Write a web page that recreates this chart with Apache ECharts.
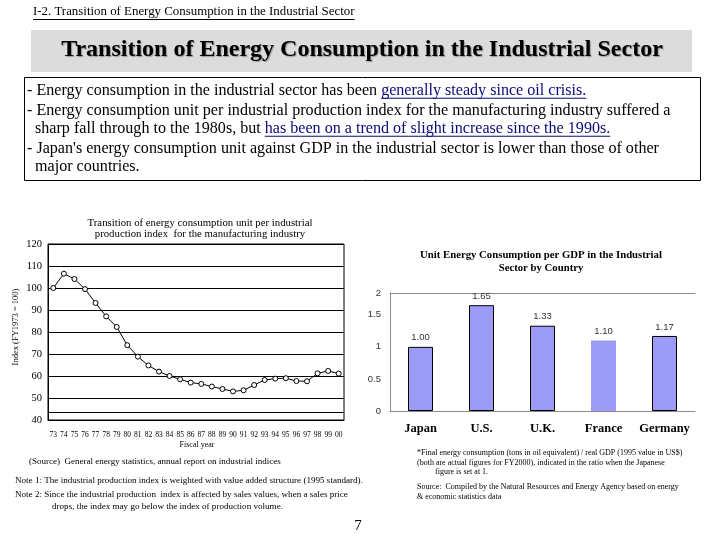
<!DOCTYPE html>
<html>
<head>
<meta charset="utf-8">
<script src="https://cdn.jsdelivr.net/npm/echarts@6/dist/echarts.min.js"></script>
<style>html,body{margin:0;padding:0;background:#fff;}#c{width:720px;height:540px;}</style>
</head>
<body>
<div id="c"></div>
<script>
// ---- data ----
const years = ['73','74','75','76','77','78','79','80','81','82','83','84','85','86','87','88','89','90','91','92','93','94','95','96','97','98','99','00'];
const energyIndex = [100,106.5,104.1,99.5,93.2,87.1,82.3,74.0,68.8,64.8,62.0,60.0,58.5,57.0,56.4,55.2,54.1,53.0,53.5,55.9,58.2,58.8,59.0,57.7,57.6,61.2,62.3,61.1];
const countries = ['Japan','U.S.','U.K.','France','Germany'];
const gdpRatio = [1.00,1.65,1.33,1.10,1.17];
const extraGuide = 43.6;

const SERIF = "'Liberation Serif', 'Times New Roman', serif";
const SANS = "'Liberation Sans', Arial, sans-serif";
const cv = document.createElement('canvas').getContext('2d');
function width(text, size, weight) { cv.font = (weight||'normal') + ' ' + size + 'px ' + SERIF; return cv.measureText(text).width; }
function fit(text, target, weight) { return 100 * target / width(text, 100, weight); }

const G = [];
function txt(x, y, text, size, opt) {
  opt = opt || {};
  const fw = opt.weight || 'normal';
  const el = { type:'text', x:x, y:y, rotation: opt.rotation || 0, z: 10,
    style:{ text:text, font: fw + ' ' + size + 'px ' + SERIF, fill: opt.fill || '#000',
      align: opt.align || 'left', verticalAlign:'middle', textAlign: opt.align || 'left', textVerticalAlign:'middle' } };
  if (opt.shadow) { el.style.textShadowColor = '#9a9a9a'; el.style.textShadowOffsetX = 1; el.style.textShadowOffsetY = 1; el.style.textShadowBlur = 1; }
  G.push(el);
}
function line(x1,y1,x2,y2,color,w){ G.push({type:'line', z:10, shape:{x1,y1,x2,y2}, style:{stroke:color||'#000', lineWidth:w||1}}); }

// header
const hdr = 'I-2. Transition of Energy Consumption in the Industrial Sector';
const hs = fit(hdr, 322);
txt(33, 12, hdr, hs);
line(33, 19.5, 33 + width(hdr, hs), 19.5, '#000', 1);

// band
G.push({type:'rect', z:1, shape:{x:31, y:30, width:661, height:42}, style:{fill:'#dcdcdc'}});
const ttl = 'Transition of Energy Consumption in the Industrial Sector';
txt(362, 50, ttl, fit(ttl, 602, 'bold'), {weight:'bold', align:'center', shadow:true});

// text box
G.push({type:'rect', z:1, shape:{x:24.5, y:77.5, width:676, height:103}, style:{fill:'#fff', stroke:'#000', lineWidth:1}});
const l2 = '- Energy consumption unit per industrial production index for the manufacturing industry suffered a';
const bs = fit(l2, 644);
const NAVY = '#0a0a78';
function bulletLine(x, y, prefix, ul) {
  txt(x, y, prefix, bs);
  if (ul) {
    const px = x + width(prefix, bs);
    txt(px, y, ul, bs, {fill:NAVY});
    line(px, y + bs*0.45, px + width(ul, bs), y + bs*0.45, NAVY, 1);
  }
}
bulletLine(27, 91, '- Energy consumption in the industrial sector has been ', 'generally steady since oil crisis.');
bulletLine(27, 111, l2);
bulletLine(27, 129, '  sharp fall through to the 1980s, but ', 'has been on a trend of slight increase since the 1990s.');
bulletLine(27, 149, "- Japan's energy consumption unit against GDP in the industrial sector is lower than those of other");
bulletLine(27, 167, '  major countries.');

// line chart titles & labels
const lt1 = 'Transition of energy consumption unit per industrial';
const lts = fit(lt1, 225);
txt(200, 223, lt1, lts, {align:'center'});
txt(200, 234, 'production index  for the manufacturing industry', lts, {align:'center'});
txt(16, 327, 'Index (FY1973 = 100)', 8.5, {align:'center', rotation: Math.PI/2});
txt(197, 445, 'Fiscal year', 8, {align:'center'});
const s1 = '(Source)  General energy statistics, annual report on industrial indices';
txt(29, 462, s1, fit(s1, 252));
const n1 = 'Note 1: The industrial production index is weighted with value added structure (1995 standard).';
const ns = fit(n1, 348);
txt(15, 481, n1, ns);
txt(15, 495, 'Note 2: Since the industrial production  index is affected by sales values, when a sales price', ns);
txt(52, 507, 'drops, the index may go below the index of production volume.', ns);
txt(358, 526, '7', 15, {align:'center'});

// bar chart titles & notes
const bt1 = 'Unit Energy Consumption per GDP in the Industrial';
const bts = fit(bt1, 242, 'bold');
txt(541, 255, bt1, bts, {weight:'bold', align:'center'});
txt(541, 268, 'Sector by Country', bts, {weight:'bold', align:'center'});
const r1 = '*Final energy consumption (tons in oil equivalent) / real GDP (1995 value in US$)';
const rs = fit(r1, 266);
txt(417, 453, r1, rs);
txt(417, 463, '(both are actual figures for FY2000), indicated in the ratio when the Japanese', rs);
txt(435, 472, 'figure is set at 1.', rs);
txt(417, 487, 'Source:  Compiled by the Natural Resources and Energy Agency based on energy', rs);
txt(417, 497, '& economic statistics data', rs);

const chart = echarts.init(document.getElementById('c'), null, {renderer:'canvas'});
chart.setOption({
  animation:false,
  backgroundColor:'#fff',
  graphic:{elements:G},
  grid:[
    {left:48, top:244, width:296, height:176, show:true, borderColor:'#000', borderWidth:1, backgroundColor:'transparent'},
    {left:390, top:293, width:305, height:118}
  ],
  xAxis:[
    {type:'category', gridIndex:0, data:years, boundaryGap:true,
     axisLine:{lineStyle:{color:'#000', width:1}},
     axisTick:{inside:true, length:3, lineStyle:{color:'#000'}},
     axisLabel:{interval:0, fontSize:7.5, fontFamily:SERIF, color:'#000', margin:11}},
    {type:'category', gridIndex:1, data:countries,
     axisLine:{lineStyle:{color:'#8a8a8a', width:1}}, axisTick:{show:false},
     axisLabel:{interval:0, hideOverlap:false, fontSize:12.5, fontWeight:'bold', fontFamily:SERIF, color:'#000', margin:11}},
    {type:'category', gridIndex:1, data:countries, position:'top',
     axisLine:{show:true, lineStyle:{color:'#8a8a8a', width:1}}, axisTick:{show:false}, axisLabel:{show:false}}
  ],
  yAxis:[
    {type:'value', gridIndex:0, min:40, max:120, interval:10,
     axisLine:{show:true, lineStyle:{color:'#000'}}, axisTick:{show:false},
     splitLine:{lineStyle:{color:'#000', width:1}},
     axisLabel:{fontSize:10.5, fontFamily:SERIF, color:'#000', margin:6}},
    {type:'value', gridIndex:1, min:0, max:1.84, interval:0.5,
     axisLine:{show:true, lineStyle:{color:'#8a8a8a'}}, axisTick:{show:false},
     splitLine:{show:false},
     axisLabel:{fontSize:9.5, fontFamily:SANS, color:'#333', margin:9,
       formatter: v => (v > 1.8 ? '2' : String(v))}}
  ],
  series:[
    {type:'line', xAxisIndex:0, yAxisIndex:0, data:energyIndex,
     symbol:'circle', symbolSize:5,
     lineStyle:{color:'#000', width:1},
     itemStyle:{color:'#fff', borderColor:'#000', borderWidth:1},
     markLine:{silent:true, symbol:'none', label:{show:false},
       lineStyle:{color:'#000', type:'solid', width:1},
       data:[{yAxis:extraGuide}]}},
    {type:'bar', xAxisIndex:1, yAxisIndex:1, barWidth:25,
     data: gdpRatio.map((v,i)=>({value:v, itemStyle: countries[i]==='France' ? {borderWidth:0} : {}})),
     itemStyle:{color:'#9c9cf8', borderColor:'#000', borderWidth:1},
     label:{show:true, position:'top', distance:4, fontSize:9.5, fontFamily:SANS, color:'#333',
       formatter: p => p.value.toFixed(2)}}
  ]
});
</script>
</body>
</html>
